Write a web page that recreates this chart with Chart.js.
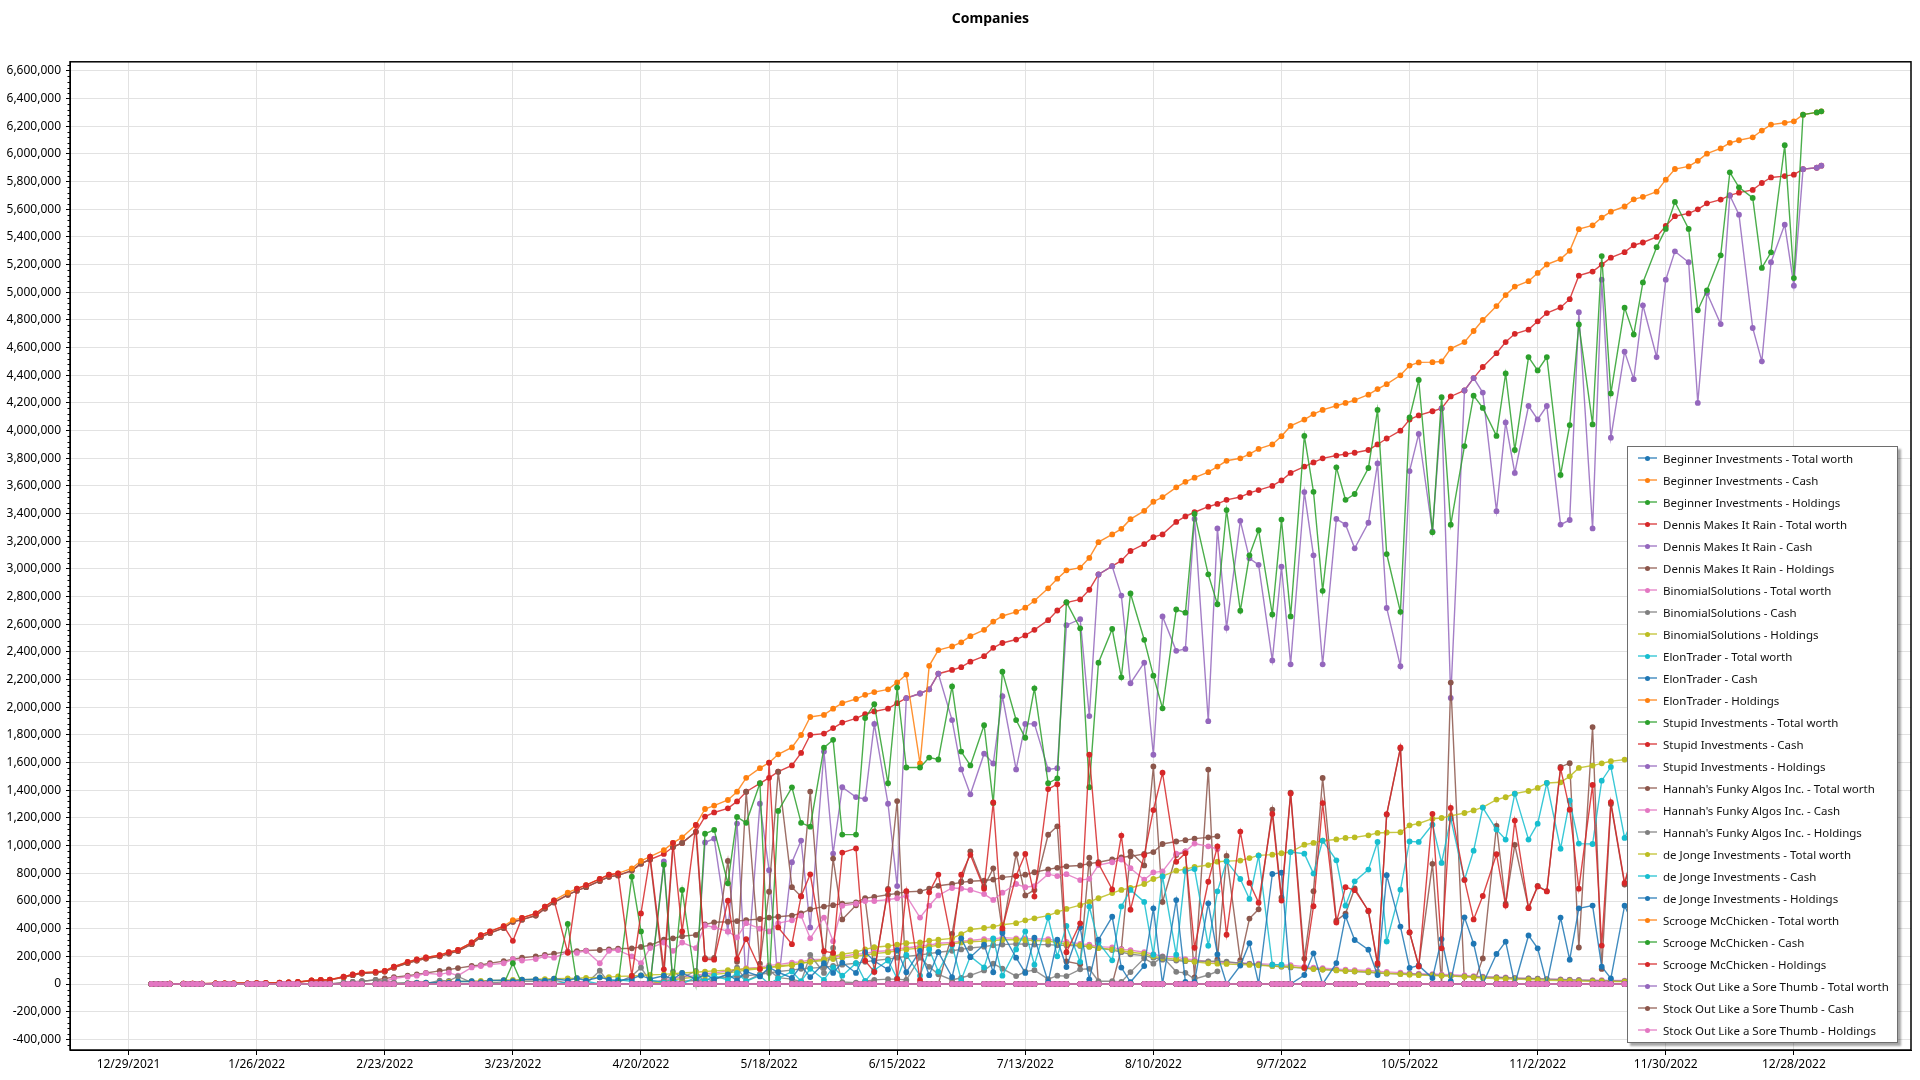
<!DOCTYPE html>
<html>
<head>
<meta charset="utf-8">
<title>Companies</title>
<script src="https://cdn.jsdelivr.net/npm/chart.js@4.4.1/dist/chart.umd.min.js"></script>
<style>
  html, body { margin: 0; padding: 0; background: #fff; }
  #wrap { position: relative; width: 1920px; height: 1080px; }
  #legend {
    position: absolute; left: 1627px; top: 446px; width: 271px; height: 597px;
    box-sizing: border-box; background: #fff; border: 1.5px solid #6e6e6e;
    box-shadow: 3px 3px 2px rgba(0,0,0,0.35);
    font-family: "Noto Sans", sans-serif; font-size: 11.5px; color: #111;
  }
  .row { height: 22px; display: flex; align-items: center; white-space: nowrap; }
  .swatch { position: relative; width: 19px; height: 10px; margin-left: 10px; margin-right: 6px; }
  .swatch .ln { position: absolute; left: 0; right: 0; top: 4px; height: 2px; }
  .swatch .dot { position: absolute; left: 7px; top: 2.5px; width: 5px; height: 5px; border-radius: 50%; }
</style>
</head>
<body>
<div id="wrap">
  <canvas id="chart" width="1920" height="1080"></canvas>
  <div id="legend"></div>
</div>
<script>
// --- x axis: day offsets from 12/29/2021 ---
const xTickLabels = ['12/29/2021', '1/26/2022', '2/23/2022', '3/23/2022', '4/20/2022', '5/18/2022', '6/15/2022',
  '7/13/2022', '8/10/2022', '9/7/2022', '10/5/2022', '11/2/2022', '11/30/2022', '12/28/2022'];
const xTickDays = xTickLabels.map((_, i) => i * 28);

// sampled trading days (Mon / Wed / Fri of every week, then Jan 2-3 2023)
const sampleDays = [];
for (let k = 0; k < 52; k++) sampleDays.push(5 + 7 * k, 7 + 7 * k, 9 + 7 * k);
sampleDays.push(369, 370);

// every trading day (Mon-Fri) Jan 3 2022 .. Jan 3 2023
const tradingDays = [];
for (let d = 5; d <= 370; d++) if ((d - 5) % 7 < 5) tradingDays.push(d);

const yTickValues = [];
for (let v = -400000; v <= 6600000; v += 200000) yTickValues.push(v);

// --- series values, in thousands, one entry per sampleDays item ---
const scroogeTotal = [
  0,1,2, 2,3,3, 4,4,5, 5,6,8,
  9,12,15, 26,29,32, 53,70,82, 88,95,125,
  160,178,192, 209,230,246, 300,354,380, 419,462,478,
  510,560,605, 660,690,715, 760,790,800, 835,890,920,
  968,1020,1060, 1150,1265,1290, 1330,1390,1490, 1560,1600,1660,
  1710,1800,1930, 1945,1990,2030, 2060,2090,2110, 2130,2180,2237,
  1594,2300,2414, 2440,2470,2514, 2560,2620,2660, 2690,2720,2770,
  2860,2930,2990, 3010,3080,3194, 3250,3290,3360, 3420,3486,3520,
  3590,3630,3660, 3700,3740,3782, 3800,3830,3868, 3900,3960,4034,
  4080,4120,4150, 4180,4200,4220, 4260,4300,4336, 4400,4470,4493,
  4495,4500,4593, 4640,4720,4800, 4900,4980,5041, 5080,5140,5201,
  5240,5300,5456, 5484,5540,5583, 5620,5672,5690, 5727,5814,5891,
  5910,5950,6002, 6040,6080,6099, 6120,6169,6212, 6225,6236,6284,
  6300,6308
];
const scroogeCash = [
  0,0,0, 0,0,0, 0,0,0, 0,0,0,
  0,0,0, 0,0,0, 0,0,0, 0,0,0,
  0,0,0, 0,0,0, 0,0,0, 0,150,0,
  0,0,0, 434,0,0, 0,0,0, 776,380,0,
  862,0,680, 0,1086,1114, 728,1208,1165, 1451,0,1251,
  1422,1165,1137, 1708,1765,1080, 1080,1922,2023, 1451,2143,1565,
  1565,1637,1623, 2151,1680,1580, 1871,1308,2257, 1908,1780,2137,
  1451,1486,2760, 2571,1423,2323, 2566,2217,2823, 2488,2229,1993,
  2707,2684,3398, 2961,2745,3426, 2698,3099,3280, 2671,3357,2657,
  3962,3558,2842, 3735,3500,3542, 3730,4150,3108, 2690,4095,4366,
  3265,4242,3320, 3888,4253,4164, 3962,4413,3860, 4532,4435,4532,
  3680,4040,4767, 4045,5262,4269, 4889,4695,5071, 5326,5458,5653,
  5458,4870,5014, 5267,5867,5759, 5682,5176,5289, 6063,5103,6284,
  6300,6308
];
const scroogeHoldings = [
  0,1,2, 2,3,3, 4,4,5, 5,6,8,
  9,12,15, 26,29,32, 53,70,82, 88,95,125,
  160,178,192, 209,230,246, 300,354,380, 419,312,478,
  510,560,605, 226,690,715, 760,790,800, 59,510,920,
  106,1020,380, 1150,179,176, 602,182,325, 109,1600,409,
  288,635,793, 237,225,950, 980,168,87, 679,37,672,
  29,663,791, 289,790,934, 689,1312,403, 782,940,633,
  1409,1444,230, 439,1657,871, 684,1073,537, 932,1257,1527,
  883,946,262, 739,995,356, 1102,731,588, 1229,603,1377,
  118,562,1308, 445,700,678, 530,150,1228, 1710,375,127,
  1230,258,1273, 752,467,636, 938,567,1181, 548,705,669,
  1560,1260,689, 1439,278,1314, 731,977,619, 401,356,238,
  452,1080,988, 773,213,340, 438,993,923, 162,1133,0,
  0,0
];
const dennisTotal = [
  0,1,2, 2,3,3, 4,4,5, 5,6,7,
  8,11,14, 24,27,30, 48,64,76, 82,90,118,
  152,170,184, 200,220,238, 288,340,368, 405,450,465,
  495,545,590, 645,675,700, 745,775,785, 820,870,900,
  940,990,1020, 1100,1210,1240, 1270,1320,1390, 1450,1490,1535,
  1580,1670,1800, 1810,1850,1890, 1920,1950,1970, 1990,2030,2066,
  2100,2130,2243, 2270,2290,2330, 2370,2430,2465, 2490,2520,2560,
  2630,2700,2757, 2780,2850,2960, 3020,3060,3130, 3180,3230,3250,
  3340,3380,3410, 3450,3470,3500, 3520,3550,3570, 3600,3640,3694,
  3740,3770,3800, 3820,3830,3840, 3860,3900,3943, 4000,4080,4110,
  4140,4160,4247, 4290,4380,4460, 4560,4640,4700, 4730,4790,4850,
  4890,4950,5120, 5150,5200,5250, 5290,5340,5360, 5400,5480,5550,
  5570,5600,5643, 5670,5700,5720, 5740,5790,5830, 5840,5850,5890,
  5900,5915
];
const dennisCash = [
  0,0,0, 0,0,0, 0,0,0, 0,0,0,
  0,0,0, 0,0,0, 0,0,0, 0,0,0,
  0,0,0, 0,0,0, 0,0,0, 0,0,0,
  0,0,0, 0,0,0, 0,0,0, 0,0,0,
  886,0,0, 0,1023,1051, 380,1160,0, 1303,823,0,
  880,1037,409, 1680,943,1423, 1351,1337,1880, 1303,708,2066,
  2100,2130,2243, 1908,1551,1371, 1665,1594,2080, 1551,1880,1880,
  1551,1560,2594, 2637,1937,2960, 3020,2808,2174, 2323,1657,2657,
  2408,2422,3362, 1900,3293,2574, 3348,3077,3030, 2339,3016,2311,
  3556,3099,2311, 3362,3321,3149, 3334,3763,2718, 2297,3708,3976,
  3271,4160,2068, 4290,4380,4275, 3418,4059,3694, 4178,4081,4178,
  3321,3354,4856, 3293,5091,3949, 4571,4372,4906, 4532,5091,5296,
  5217,4200,4995, 4770,5700,5561, 4742,4501,5217, 5489,5048,5890,
  5900,5915
];
const dennisHoldings = [
  0,1,2, 2,3,3, 4,4,5, 5,6,7,
  8,11,14, 24,27,30, 48,64,76, 82,90,118,
  152,170,184, 200,220,238, 288,340,368, 405,450,465,
  495,545,590, 645,675,700, 745,775,785, 820,870,900,
  54,990,1020, 1100,187,189, 890,160,1390, 147,667,1535,
  700,633,1391, 130,907,467, 569,613,90, 687,1322,0,
  0,0,0, 362,739,959, 705,836,385, 939,640,680,
  1079,1140,163, 143,913,0, 0,252,956, 857,1573,593,
  932,958,48, 1550,177,926, 172,473,540, 1261,624,1383,
  184,671,1489, 458,509,691, 526,137,1225, 1703,372,134,
  869,0,2179, 0,0,185, 1142,581,1006, 552,709,672,
  1569,1596,264, 1857,109,1301, 719,968,454, 868,389,254,
  353,1400,648, 900,0,159, 998,1289,613, 351,802,0,
  0,0
];
const binomialTotal = [
  0,0,0, 0,0,0, 0,0,0, 0,0,0,
  0,0,0, 0,0,0, 0,0,0, 0,0,0,
  0,0,0, 0,0,0, 0,0,0, 0,0,0,
  0,0,0, 0,0,0, 0,0,0, 0,0,0,
  30,40,50, 60,75,80, 95,100,115, 120,135,140,
  155,160,175, 180,195,200, 215,220,235, 240,255,260,
  275,280,295, 300,310,315, 325,325,335, 330,330,325,
  325,310,305, 290,285,270, 265,250,245, 230,215,200,
  195,180,175, 162,158,155, 152,148,147, 142,138,136,
  126,118,115, 108,104,101, 98,92,88, 82,77,74,
  72,70,67, 62,57,53, 50,47,44, 41,39,36,
  34,32,30, 28,27,26, 25,24,23, 22,21,20,
  19,18,18, 17,16,16, 15,15,14, 14,13,13,
  12,12
];
const binomialCash = [
  0,0,0, 0,0,0, 0,0,0, 0,0,0,
  0,0,0, 0,0,0, 0,0,0, 0,0,0,
  0,0,0, 0,0,0, 0,0,0, 0,0,0,
  0,0,0, 0,0,0, 0,0,0, 0,0,0,
  10,15,20, 25,30,40, 50,55,60, 70,80,90,
  100,110,115, 120,130,140, 150,160,170, 180,190,200,
  210,220,230, 240,250,260, 270,280,285, 290,288,285,
  285,280,280, 275,270,260, 245,230,215, 205,190,176,
  170,165,164, 164,164,162, 150,145,140, 130,125,120,
  115,110,105, 100,95,90, 85,80,75, 73,72,70,
  65,62,60, 55,52,50, 48,45,42, 40,38,35,
  32,30,28, 25,23,22, 20,19,18, 17,16,15,
  14,13,12, 11,10,10, 9,8,8, 7,6,6,
  5,5
];
const binomialHoldings = [
  0,0,0, 0,0,0, 0,0,0, 0,0,0,
  0,0,0, 0,0,0, 0,0,0, 0,0,0,
  0,0,0, 0,0,0, 0,0,0, 0,0,0,
  0,0,0, 0,0,0, 0,0,0, 0,0,0,
  20,30,40, 50,60,70, 80,90,100, 110,120,130,
  140,150,160, 170,180,190, 200,210,220, 230,240,250,
  260,270,280, 290,300,305, 310,315,320, 320,318,315,
  310,300,290, 280,270,260, 250,240,230, 219,200,188,
  180,170,160, 150,147,145, 140,138,135, 130,128,125,
  115,108,104, 98,94,92, 88,82,78, 72,67,64,
  62,60,58, 52,48,43, 40,37,35, 32,30,27,
  25,23,21, 19,19,18, 17,16,16, 15,14,14,
  13,12,12, 11,10,10, 9,9,8, 8,7,7,
  6,6
];
// Hannah's series stop after 8/24/2022
const hannahTotal = [
  0,0,0, 0,0,0, 0,0,0, 0,0,0,
  0,0,0, 0,0,0, 10,15,20, 30,40,50,
  60,70,80, 95,105,115, 130,137,150, 165,180,190,
  200,210,220, 234,238,242, 246,250,255, 258,268,280,
  320,330,345, 355,430,446, 450,455,462, 470,480,486,
  495,510,540, 560,570,580, 590,620,630, 645,655,666,
  670,690,710, 723,735,743, 748,755,771, 780,790,808,
  829,840,851, 857,870,880, 900,915,923, 940,954,1012,
  1030,1040,1051, 1060,1068
];
const hannahCash = [
  0,0,0, 0,0,0, 0,0,0, 0,0,0,
  0,0,0, 0,0,0, 0,0,0, 0,20,40,
  53,60,78, 70,82,60, 120,130,140, 150,180,170,
  180,200,190, 230,225,240, 150,240,245, 200,150,260,
  300,240,300, 260,423,410, 380,337,440, 400,380,440,
  460,494,330, 480,309,566, 580,600,600, 610,620,637,
  480,566,640, 694,690,680, 650,608,660, 723,700,708,
  794,780,794, 751,760,860, 880,900,837, 754,807,814,
  942,959,1015, 995,976
];
const hannahHoldings = [
  0,0,0, 0,0,0, 0,0,0, 0,0,0,
  0,0,0, 0,0,0, 10,15,20, 30,20,10,
  7,10,2, 25,23,55, 10,7,10, 15,0,20,
  20,10,30, 4,13,2, 96,10,10, 58,118,20,
  20,90,45, 95,7,36, 70,118,22, 70,100,46,
  35,16,210, 80,261,14, 10,20,30, 35,35,29,
  190,124,70, 29,45,63, 98,147,111, 57,90,100,
  35,60,57, 106,110,20, 20,15,86, 186,147,198,
  88,81,36, 65,92
];
const deJongeTotal = [
  0,0,0, 0,0,0, 0,0,0, 0,0,0,
  0,0,0, 0,0,0, 0,0,0, 0,0,0,
  5,8,10, 12,15,18, 20,22,25, 28,30,32,
  34,36,38, 40,42,45, 48,50,55, 58,62,66,
  70,75,80, 85,90,95, 100,105,110, 115,120,125,
  135,151,160, 180,200,215, 230,250,266, 275,285,295,
  300,314,320, 330,360,394, 405,415,428, 440,460,475,
  494,520,543, 570,594,620, 657,680,694, 723,759,780,
  819,830,846, 860,884,888, 892,910,930, 935,945,954,
  1007,1020,1036, 1045,1056,1060, 1075,1092,1095, 1097,1147,1160,
  1195,1200,1215, 1236,1255,1277, 1333,1350,1376, 1395,1417,1453,
  1458,1501,1562, 1579,1595,1610, 1622,1622,1622, 1622,1625,1625,
  1630,1635,1640, 1645,1650,1655, 1660,1665,1670, 1675,1680,1685,
  1690,1690
];
const deJongeCash = [
  0,0,0, 0,0,0, 0,0,0, 0,0,0,
  0,0,0, 0,0,0, 0,0,0, 0,0,0,
  0,0,0, 0,5,0, 0,8,0, 0,10,0,
  0,12,0, 15,0,20, 0,18,30, 20,0,30,
  10,40,0, 50,20,60, 30,80,20, 60,0,40,
  90,20,110, 30,120,60, 150,20,100, 170,40,210,
  60,250,90, 280,30,200, 120,330,60, 250,380,140,
  480,200,420, 160,560,300, 171,561,680, 593,212,778,
  212,815,831, 277,670,888, 759,615,928, 140,140,954,
  942,798,1036, 894,566,742, 827,1027,308, 682,1031,1027,
  1152,875,1195, 754,964,1275, 1116,1044,1376, 1044,1159,1453,
  978,1325,1015, 1012,1470,1569, 1056,1200,900, 1300,1100,1400,
  1500,1200,1350, 1450,1550,1300, 1600,1400,1500, 1650,1300,1680,
  1690,1690
];
const deJongeHoldings = [
  0,0,0, 0,0,0, 0,0,0, 0,0,0,
  0,0,0, 0,0,0, 0,0,0, 0,0,0,
  5,8,10, 12,10,18, 20,14,25, 28,20,32,
  34,24,38, 25,42,25, 48,32,25, 38,62,36,
  60,35,80, 35,70,35, 70,25,90, 55,120,85,
  45,131,50, 150,80,155, 80,230,166, 105,245,85,
  240,64,230, 50,330,194, 285,85,368, 190,80,335,
  14,320,123, 410,34,320, 486,119,14, 130,547,2,
  607,15,15, 583,214,0, 133,295,2, 795,805,0,
  65,222,0, 151,490,318, 248,65,787, 415,116,133,
  43,325,20, 482,291,2, 217,306,0, 351,258,0,
  480,176,547, 567,125,41, 566,422,722, 322,525,225,
  130,435,290, 195,100,355, 60,265,170, 25,380,5,
  0,0
];
// companies that stayed at zero the whole year
const flatLine = tradingDays.map(() => 0);

const seriesNames = [
  'Beginner Investments - Total worth', 'Beginner Investments - Cash', 'Beginner Investments - Holdings',
  'Dennis Makes It Rain - Total worth', 'Dennis Makes It Rain - Cash', 'Dennis Makes It Rain - Holdings',
  'BinomialSolutions - Total worth', 'BinomialSolutions - Cash', 'BinomialSolutions - Holdings',
  'ElonTrader - Total worth', 'ElonTrader - Cash', 'ElonTrader - Holdings',
  'Stupid Investments - Total worth', 'Stupid Investments - Cash', 'Stupid Investments - Holdings',
  "Hannah's Funky Algos Inc. - Total worth", "Hannah's Funky Algos Inc. - Cash", "Hannah's Funky Algos Inc. - Holdings",
  'de Jonge Investments - Total worth', 'de Jonge Investments - Cash', 'de Jonge Investments - Holdings',
  'Scrooge McChicken - Total worth', 'Scrooge McChicken - Cash', 'Scrooge McChicken - Holdings',
  'Stock Out Like a Sore Thumb - Total worth', 'Stock Out Like a Sore Thumb - Cash', 'Stock Out Like a Sore Thumb - Holdings'
];
const seriesValues = [
  null, null, null,
  dennisTotal, dennisCash, dennisHoldings,
  binomialTotal, binomialCash, binomialHoldings,
  null, null, null,
  null, null, null,
  hannahTotal, hannahCash, hannahHoldings,
  deJongeTotal, deJongeCash, deJongeHoldings,
  scroogeTotal, scroogeCash, scroogeHoldings,
  null, null, null
];
const palette = ['#1f77b4', '#ff7f0e', '#2ca02c', '#d62728', '#9467bd', '#8c564b', '#e377c2', '#7f7f7f', '#bcbd22', '#17becf'];

function fade(hex, a) {
  const n = parseInt(hex.slice(1), 16);
  return `rgba(${n >> 16},${(n >> 8) & 255},${n & 255},${a})`;
}

const datasets = seriesNames.map((name, i) => {
  const color = palette[i % palette.length];
  const vals = seriesValues[i];
  const points = vals
    ? vals.map((v, j) => ({ x: sampleDays[j], y: v * 1000 }))
    : tradingDays.map((d, j) => ({ x: d, y: flatLine[j] }));
  return {
    label: name,
    data: points,
    borderColor: fade(color, 0.85),
    backgroundColor: color,
    pointBackgroundColor: color,
    pointBorderWidth: 0,
    pointRadius: 2.9,
    pointHoverRadius: 0,
    borderWidth: 1.4,
    tension: 0,
    fill: false,
    order: -i // later series drawn on top
  };
});

const FONT = '"Noto Sans", "Open Sans", sans-serif';

// black frame round the plot and small minor ticks on the value axis
const framePlugin = {
  id: 'frame',
  afterDraw(chart) {
    const { ctx, chartArea: a, scales } = chart;
    ctx.save();
    ctx.strokeStyle = '#000';
    ctx.lineWidth = 1.5;
    ctx.strokeRect(a.left, a.top, a.right - a.left, a.bottom - a.top);
    ctx.lineWidth = 1;
    ctx.beginPath();
    for (let v = -440000; v <= 6640000; v += 40000) {
      if (v % 200000 === 0) continue;
      const y = Math.round(scales.y.getPixelForValue(v)) + 0.5;
      if (y < a.top || y > a.bottom) continue;
      ctx.moveTo(a.left - 2.5, y);
      ctx.lineTo(a.left, y);
    }
    ctx.stroke();
    ctx.restore();
  }
};

const ctx = document.getElementById('chart').getContext('2d');
const chart = new Chart(ctx, {
  type: 'line',
  data: { datasets },
  plugins: [framePlugin],
  options: {
    responsive: false,
    animation: false,
    layout: { padding: { left: 0, right: 9, top: 0, bottom: 0 } },
    plugins: {
      legend: { display: false },
      tooltip: { enabled: false },
      title: {
        display: true,
        text: 'Companies',
        fullSize: false,
        color: '#000',
        font: { family: FONT, size: 14, weight: 'bold' },
        padding: { top: 11, bottom: 34 }
      }
    },
    scales: {
      x: {
        type: 'linear',
        min: -12.8,
        max: 389.6,
        afterBuildTicks: s => { s.ticks = xTickDays.map(v => ({ value: v })); },
        afterFit: s => { s.height = 30; },
        ticks: {
          autoSkip: false, maxRotation: 0, padding: 2, color: '#000',
          font: { family: FONT, size: 12 },
          callback: v => { const i = xTickDays.indexOf(v); return i >= 0 ? xTickLabels[i] : ''; }
        },
        grid: { color: '#e2e2e2', lineWidth: 1, tickColor: '#000', tickLength: 5 },
        border: { color: '#000', width: 1 }
      },
      y: {
        type: 'linear',
        min: -477000,
        max: 6666000,
        afterBuildTicks: s => { s.ticks = yTickValues.map(v => ({ value: v })); },
        afterFit: s => { s.width = 70; },
        ticks: {
          padding: 5, color: '#000',
          font: { family: FONT, size: 12 },
          callback: v => Number(v).toLocaleString('en-US')
        },
        grid: { color: '#e2e2e2', lineWidth: 1, tickColor: '#000', tickLength: 4 },
        border: { color: '#000', width: 1 }
      }
    }
  }
});

// --- legend box drawn over the plot, like the original ---
const legendBox = document.getElementById('legend');
seriesNames.forEach((name, i) => {
  const color = palette[i % palette.length];
  const row = document.createElement('div');
  row.className = 'row';
  row.innerHTML = `<span class="swatch"><span class="ln" style="background:${fade(color, 0.6)}"></span>` +
    `<span class="dot" style="background:${color}"></span></span><span>${name}</span>`;
  legendBox.appendChild(row);
});
</script>
</body>
</html>
